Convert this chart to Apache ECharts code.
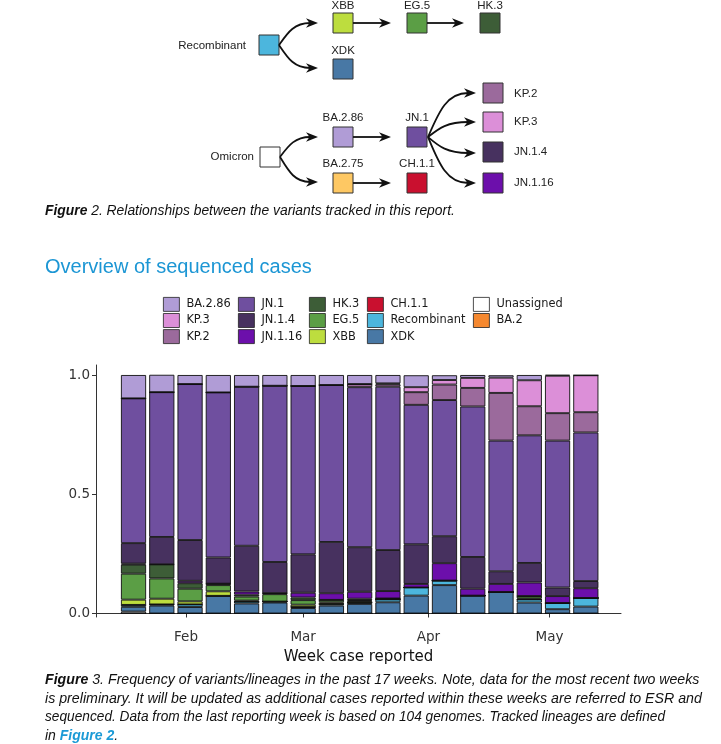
<!DOCTYPE html>
<html><head><meta charset="utf-8">
<script src="https://cdn.jsdelivr.net/npm/echarts@6/dist/echarts.min.js"></script>
<style>html,body{margin:0;padding:0;background:#fff}#c{width:721px;height:744px}</style>
</head><body><div id="c"></div>
<script>
// ---- data ----
const weeks = ['2024-01-19','2024-01-26','2024-02-02','2024-02-09','2024-02-16','2024-02-23','2024-03-01','2024-03-08','2024-03-15','2024-03-22','2024-03-29','2024-04-05','2024-04-12','2024-04-19','2024-04-26','2024-05-03','2024-05-10'];
const BA_2_86     = [0.098,0.073,0.038,0.073,0.049,0.045,0.046,0.042,0.038,0.035,0.050,0.020,0.012,0.010,0.022,0.004,0];
const KP_3        = [0,0,0,0,0,0,0,0,0,0.004,0.021,0.019,0.042,0.064,0.109,0.157,0.155];
const KP_2        = [0,0,0,0,0,0,0,0,0.013,0.010,0.053,0.065,0.078,0.200,0.122,0.115,0.085];
const JN_1        = [0.607,0.607,0.654,0.692,0.667,0.739,0.706,0.658,0.671,0.685,0.585,0.571,0.631,0.548,0.535,0.616,0.623];
const JN_1_4      = [0.086,0.115,0.171,0.110,0.192,0.131,0.161,0.215,0.187,0.172,0.166,0.113,0.133,0.053,0.082,0.036,0.030];
const JN_1_16     = [0.004,0,0.010,0,0.013,0,0.020,0.028,0.029,0.031,0.015,0.073,0.029,0.034,0.057,0.029,0.041];
const HK_3        = [0.038,0.059,0.023,0.006,0.008,0.004,0.011,0,0.006,0,0,0,0,0,0,0,0];
const EG_5        = [0.109,0.085,0.053,0.026,0.017,0.031,0.019,0.010,0.004,0.004,0,0,0,0,0.010,0,0];
const XBB         = [0.022,0.024,0.013,0.019,0.004,0,0.010,0.007,0.006,0,0,0,0,0,0.004,0,0];
const CH_1_1      = [0,0,0,0,0,0,0,0,0,0,0,0,0,0,0,0,0];
const Recombinant = [0.008,0.005,0.011,0,0.008,0.004,0.004,0.007,0.006,0.012,0.034,0.019,0,0,0.013,0.026,0.036];
const XDK         = [0.020,0.033,0.027,0.074,0.042,0.046,0.023,0.033,0.040,0.047,0.075,0.119,0.075,0.090,0.046,0.018,0.029];
const Unassigned  = [0.008,0,0,0,0,0,0,0,0,0,0,0,0,0,0,0,0];
const BA_2        = [0,0,0,0,0,0,0,0,0,0,0,0,0,0,0,0,0];

const monthTicks  = ['2024-02-01','2024-03-01','2024-04-01','2024-05-01'];
const monthLabels = ['Feb','Mar','Apr','May'];
const yTicks      = [0, 0.5, 1.0];
const yTickLabels = ['0.0','0.5','1.0'];

// stacking order bottom -> top
const stackOrder = [
  ['BA.2', BA_2], ['Unassigned', Unassigned], ['XDK', XDK], ['Recombinant', Recombinant],
  ['CH.1.1', CH_1_1], ['XBB', XBB], ['EG.5', EG_5], ['HK.3', HK_3], ['JN.1.16', JN_1_16],
  ['JN.1.4', JN_1_4], ['JN.1', JN_1], ['KP.2', KP_2], ['KP.3', KP_3], ['BA.2.86', BA_2_86]
];
const legendColumns = [
  ['BA.2.86','KP.3','KP.2'], ['JN.1','JN.1.4','JN.1.16'], ['HK.3','EG.5','XBB'],
  ['CH.1.1','Recombinant','XDK'], ['Unassigned','BA.2']
];

// ---- styles / layout ----
const palette = {
  'BA.2.86':'#b09cd6','KP.3':'#dc8fd8','KP.2':'#9b6a9c','JN.1':'#6f4f9f','JN.1.4':'#47315f',
  'JN.1.16':'#6c0fab','HK.3':'#3d5d37','EG.5':'#5b9e45','XBB':'#bddd3e','CH.1.1':'#c9102f',
  'Recombinant':'#4cb6dd','XDK':'#4878a5','Unassigned':'#ffffff','BA.2':'#f5882f','BA.2.75':'#fec863'
};
const legendLeft = [163, 238, 309, 367, 473];

function toTime(s){ const p = s.split('-').map(Number); return new Date(p[0], p[1]-1, p[2]).getTime(); }
const monthTickTimes = monthTicks.map(toTime);

// plot area (axis frame) and date range
const AX_L = 96, AX_R = 621, TOP = 365, BOTTOM = 617;
const tMin = new Date(2024,0,9,17).getTime(), tMax = new Date(2024,4,18,17).getTime();
const pxPerMs = (AX_R - AX_L) / (tMax - tMin);
const DAY = 86400000;
// bar grid covers exactly the 17 weekly bands, aligned to the date scale
const t0 = toTime(weeks[0]) - 3.5*DAY, t1 = toTime(weeks[weeks.length-1]) + 3.5*DAY;
const BAR_L = AX_L + (t0 - tMin)*pxPerMs, BAR_R = AX_L + (t1 - tMin)*pxPerMs;
const Y_MIN = -0.0147, Y_MAX = 1.042;

const series = stackOrder.map(([name, arr]) => ({
  name, type: 'bar', stack: 'total', barWidth: '89%', xAxisIndex: 1, yAxisIndex: 1,
  data: arr.slice(),
  itemStyle: { color: palette[name], borderColor: '#111', borderWidth: 0.9 },
  emphasis: { disabled: true }
}));

const legends = legendColumns.map((col, i) => ({
  data: col, orient: 'vertical', left: legendLeft[i], top: 297,
  itemWidth: 16, itemHeight: 14, itemGap: 1.3, icon: 'rect', selectedMode: false,
  itemStyle: { borderColor: '#222', borderWidth: 0.8 },
  textStyle: { fontFamily: 'DejaVu Sans', fontSize: 11.4, color: '#1a1a1a', lineHeight: 14, padding: [0,0,0,2] },
  padding: 0
}));

// ---- Figure 2 diagram (graphic) ----
const g = [];
const LBL = '11.5px "Liberation Sans", Arial, sans-serif';
function box(x, y, c){ g.push({type:'rect', shape:{x, y, width:20, height:20}, style:{fill:c, stroke:'#333', lineWidth:1}}); }
function label(t, x, y, align){ g.push({type:'text', x, y, style:{text:t, font:LBL, fill:'#222', align:align||'center', verticalAlign:'middle', textAlign:align||'center', textVerticalAlign:'middle'}}); }
function head(x, y){ g.push({type:'polygon', shape:{points:[[x,y],[x-12,y-4.8],[x-8.5,y],[x-12,y+4.8]]}, style:{fill:'#111'}}); }
function straight(x1, x2, y){ g.push({type:'line', shape:{x1, y1:y, x2:x2-8, y2:y}, style:{stroke:'#111', lineWidth:1.8}}); head(x2, y); }
function curve(x1, y1, x2, y2){
  const dx = x2 - x1;
  g.push({type:'bezierCurve', shape:{x1, y1, cpx1:x1+dx*0.22, cpy1:y1+(y2-y1)*0.55, cpx2:x1+dx*0.38, cpy2:y2, x2:x2-8, y2}, style:{stroke:'#111', lineWidth:1.8, fill:null}});
  head(x2, y2);
}
// recombinant branch
label('Recombinant', 246, 46, 'right');
box(259, 35, palette['Recombinant']);
curve(279, 45, 318, 23); curve(279, 45, 318, 68);
label('XBB', 343, 6); box(333, 13, palette['XBB']);
straight(353, 391, 23);
label('EG.5', 417, 6); box(407, 13, palette['EG.5']);
straight(427, 464, 23);
label('HK.3', 490, 6); box(480, 13, palette['HK.3']);
label('XDK', 343, 51); box(333, 59, palette['XDK']);
// omicron branch
label('Omicron', 254, 157, 'right');
box(260, 147, '#ffffff');
curve(280, 157, 318, 137); curve(280, 157, 318, 182);
label('BA.2.86', 343, 118); box(333, 127, palette['BA.2.86']);
label('BA.2.75', 343, 164); box(333, 173, palette['BA.2.75']);
straight(353, 391, 137); straight(353, 391, 183);
label('JN.1', 417, 118); box(407, 127, palette['JN.1']);
label('CH.1.1', 417, 164); box(407, 173, palette['CH.1.1']);
curve(428, 137, 476, 93); curve(428, 137, 476, 122); curve(428, 137, 476, 153); curve(428, 137, 476, 183);
box(483, 83, palette['KP.2']); label('KP.2', 514, 94, 'left');
box(483, 112, palette['KP.3']); label('KP.3', 514, 122, 'left');
box(483, 142, palette['JN.1.4']); label('JN.1.4', 514, 152, 'left');
box(483, 173, palette['JN.1.16']); label('JN.1.16', 514, 183, 'left');

// captions / heading
const CAP = 'italic 14px "Liberation Sans", Arial, sans-serif';
const CAPB = 'italic bold 14px "Liberation Sans", Arial, sans-serif';
function cap(t, y, sx){ g.push({type:'text', x:45, y, scaleX: sx||1, style:{text:t, font:CAP, fill:'#111', verticalAlign:'middle', textVerticalAlign:'middle',
  rich:{b:{font:CAPB, fill:'#111'}, l:{font:CAPB, fill:'#1b9ad6'}, n:{font:CAP, fill:'#111'}}}}); }
cap('{b|Figure}{n| 2. Relationships between the variants tracked in this report.}', 211, 0.99);
g.push({type:'text', x:45, y:267, style:{text:'Overview of sequenced cases', font:'20px "Liberation Sans", Arial, sans-serif', fill:'#1c96d4', verticalAlign:'middle', textVerticalAlign:'middle'}});
cap('{b|Figure}{n| 3. Frequency of variants/lineages in the past 17 weeks. Note, data for the most recent two weeks}', 680, 1.012);
cap('{n|is preliminary. It will be updated as additional cases reported within these weeks are referred to ESR and}', 699, 1.015);
cap('{n|sequenced. Data from the last reporting week is based on 104 genomes. Tracked lineages are defined}', 717, 0.978);
cap('{n|in }{l|Figure 2}{n|.}', 736);

const chart = echarts.init(document.getElementById('c'), null, {renderer:'canvas'});
chart.setOption({
  animation: false,
  backgroundColor: '#ffffff',
  graphic: { elements: g },
  legend: legends,
  grid: [
    { left: AX_L, width: AX_R - AX_L, top: TOP, height: BOTTOM - TOP },
    { left: BAR_L, width: BAR_R - BAR_L, top: TOP, height: BOTTOM - TOP }
  ],
  xAxis: [{
    type: 'value', gridIndex: 0, min: tMin, max: tMax,
    axisLine: { lineStyle: { color: '#333', width: 1 } },
    axisTick: { show: true, length: 4, lineStyle: { color: '#333' }, customValues: monthTickTimes },
    axisLabel: { customValues: monthTickTimes, margin: 13, fontFamily: 'DejaVu Sans', fontSize: 13.5, color: '#333',
      formatter: v => { const i = monthTickTimes.indexOf(v); return i >= 0 ? monthLabels[i] : ''; } },
    splitLine: { show: false },
    name: 'Week case reported', nameLocation: 'middle', nameGap: 33,
    nameTextStyle: { fontFamily: 'DejaVu Sans', fontSize: 15, color: '#111' }
  }, {
    type: 'category', gridIndex: 1, data: weeks, boundaryGap: true,
    axisLine: { show: false }, axisTick: { show: false }, axisLabel: { show: false }, splitLine: { show: false }
  }],
  yAxis: [{
    type: 'value', gridIndex: 0, min: Y_MIN, max: Y_MAX,
    axisLine: { show: true, lineStyle: { color: '#333', width: 1 } },
    axisTick: { show: true, length: 4, lineStyle: { color: '#333' }, customValues: yTicks },
    axisLabel: { customValues: yTicks, margin: 6, fontFamily: 'DejaVu Sans', fontSize: 13.5, color: '#333',
      formatter: v => { const i = yTicks.indexOf(v); return i >= 0 ? yTickLabels[i] : ''; } },
    splitLine: { show: false }
  }, {
    type: 'value', gridIndex: 1, min: Y_MIN, max: Y_MAX,
    axisLine: { show: false }, axisTick: { show: false }, axisLabel: { show: false }, splitLine: { show: false }
  }],
  series
});
</script></body></html>
